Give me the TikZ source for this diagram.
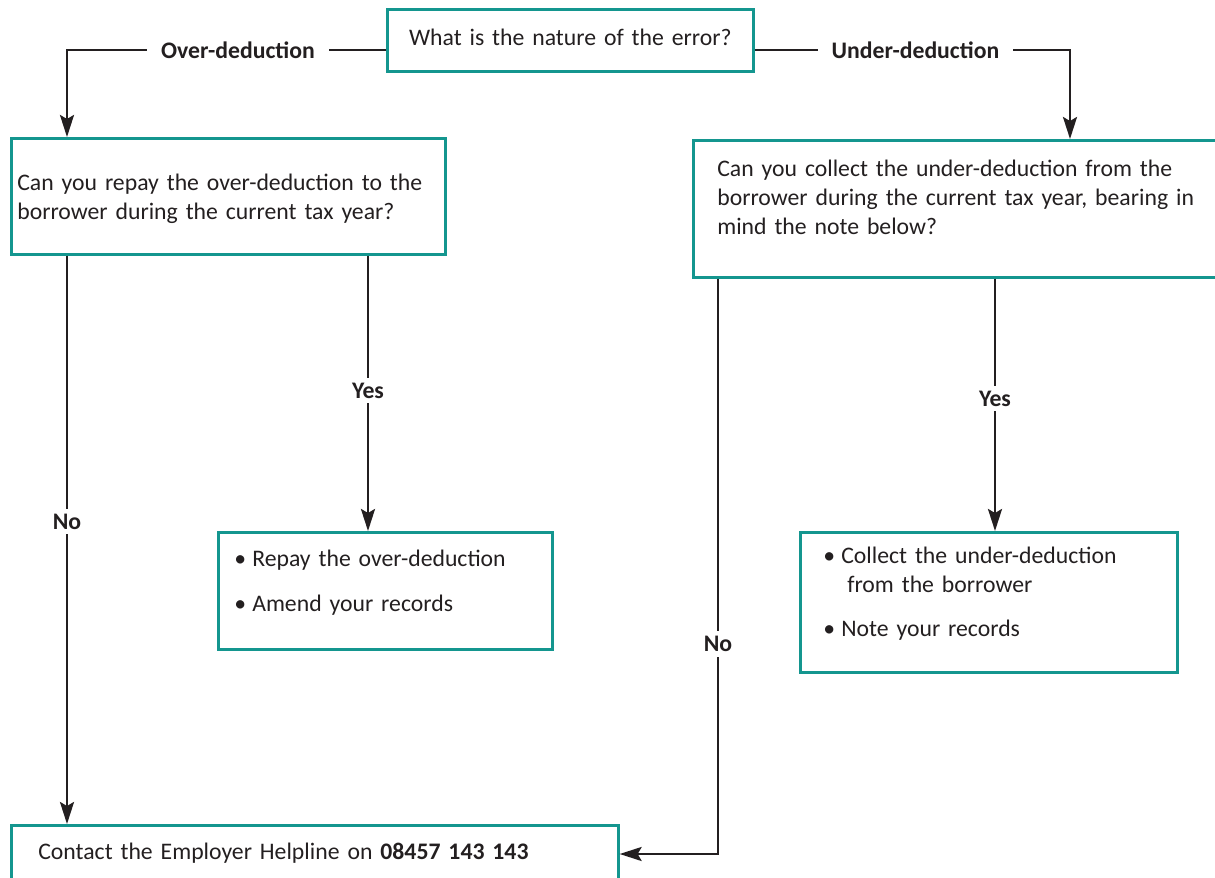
\documentclass[tikz,border=0pt]{standalone}
\usepackage{fontspec}
\setmainfont{Carlito}
\usetikzlibrary{arrows.meta, positioning}
\definecolor{boxteal}{RGB}{20,150,143}
\definecolor{inkgrey}{RGB}{35,31,32}
\newcommand{\itembul}{\makebox[0.36cm][l]{•}}

\begin{document}
\begin{tikzpicture} [
          font = \fontsize{13.5}{16.5}\selectfont,
          box/.style = {draw = boxteal, line width = 1.5pt,
              anchor = north west, inner ysep = 0pt,
              align = left, text = inkgrey
          },
          link/.style = {draw = inkgrey, line width = 1.4pt,
              -{Stealth[length=4.4mm, width=2.8mm, inset=0.8mm]}
          },
          lbl/.style = {fill = white, text = inkgrey,
              font = \fontsize{13.5}{16.5}\selectfont\bfseries,
              inner xsep = 0.28cm, inner ysep = 0.1cm
          }
          ]

          \useasboundingbox (0,0) rectangle (24.3,-17.56);
          \clip (0,0) rectangle (24.3,-17.56);

          % Boxes
          \node (nature) [box, align = center, inner xsep = 0pt, text width = 7.32cm,
              text height = 0.72cm, text depth = 0.52cm] at (7.72,-0.16)
              {What is the nature of the error?};
          \node (repay) [box, inner xsep = 0.12cm, text width = 8.44cm,
              text height = 1.04cm, text depth = 1.28cm] at (0.2,-2.74)
              {Can you repay the over-deduction to the\\
               borrower during the current tax year?};
          \node (collect) [box, inner xsep = 0.48cm, text width = 10cm,
              text height = 0.72cm, text depth = 2.02cm] at (13.84,-2.78)
              {Can you collect the under-deduction from the\\
               borrower during the current tax year, bearing in\\
               mind the note below?};
          \node (repayyes) [box, inner xsep = 0.32cm, text width = 6.04cm,
              text height = 0.68cm, text depth = 1.66cm] at (4.34,-10.62)
              {\itembul Repay the over-deduction\\[9pt]
               \itembul Amend your records};
          \node (collectyes) [box, inner xsep = 0.46cm, text width = 6.62cm,
              text height = 0.62cm, text depth = 2.18cm] at (15.98,-10.62)
              {\itembul Collect the under-deduction\\
               \hspace*{0.48cm}from the borrower\\[8.5pt]
               \itembul Note your records};
          \node (helpline) [box, inner xsep = 0.54cm, text width = 11.06cm,
              text height = 0.68cm, text depth = 0.8cm] at (0.2,-16.48)
              {Contact the Employer Helpline on \textbf{08457 143 143}};

          % Corners
          \coordinate (overc) at (1.34,-1.0);
          \coordinate (underc) at (21.4,-1.0);
          \coordinate (yesl) at (7.36,0);
          \coordinate (yesr) at (19.9,0);
          \coordinate (noc) at (14.36,-17.08);

          % Links
          \draw [link] (overc -| nature.west) -- node [lbl, pos = 0.464] {Over-deduction}
              (overc) -- (overc |- repay.north);
          \draw [link] (underc -| nature.east) -- node [lbl, pos = 0.51] {Under-deduction}
              (underc) -- (underc |- collect.north);
          \draw [link] (yesl |- repay.south) -- node [lbl, pos = 0.49] {Yes}
              (yesl |- repayyes.north);
          \draw [link] (yesr |- collect.south) -- node [lbl, pos = 0.475] {Yes}
              (yesr |- collectyes.north);
          \draw [link] (overc |- repay.south) -- node [lbl, pos = 0.468] {No}
              (overc |- helpline.north);
          \draw [link] (noc |- collect.south) -- node [lbl, pos = 0.635] {No}
              (noc) -- (noc -| helpline.east);

        \end{tikzpicture}
\end{document}
